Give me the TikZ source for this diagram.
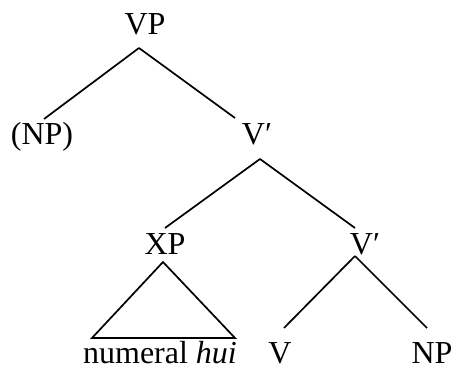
\documentclass[tikz,border=0pt]{standalone}
\usepackage{fontspec}
\setmainfont{Liberation Serif}
\begin{document}
\begin{tikzpicture}[x=1pt, y=-1pt, line width=1.7pt,
    cat/.style={anchor=base, inner sep=0pt, font=\fontsize{32}{38}\selectfont}]
    \useasboundingbox (0,0) rectangle (451,369);

    % Categories
    \node[cat] (vp) at (145,35) {VP};
    \node[cat] (spec) at (42,145) {(NP)};
    \node[cat] (vbarA) at (257,145) {V′};
    \node[cat] (xp) at (165,255) {XP};
    \node[cat] (vbarB) at (365,255) {V′};

    % Terminals
    \node[cat] (num) at (160,364) {numeral \textit{hui}};
    \node[cat] (verb) at (280,364) {V};
    \node[cat] (obj) at (432,364) {NP};

    % Branches
    \draw ([shift={(-6,13)}]vp.base) -- ([shift={(2,-26)}]spec.base);
    \draw ([shift={(-6,13)}]vp.base) -- ([shift={(-22,-27)}]vbarA.base);
    \draw ([shift={(3,14)}]vbarA.base) -- ([shift={(0,-27)}]xp.base);
    \draw ([shift={(3,14)}]vbarA.base) -- ([shift={(-10,-27)}]vbarB.base);
    \draw ([shift={(-10,1)}]vbarB.base) -- ([shift={(4,-36)}]verb.base);
    \draw ([shift={(-10,1)}]vbarB.base) -- ([shift={(-5,-36)}]obj.base);

    % Triangle
    \draw ([shift={(-2,7)}]xp.base) -- ([shift={(-68,-26)}]num.base)
        -- ([shift={(75,-26)}]num.base) -- cycle;
\end{tikzpicture}
\end{document}
